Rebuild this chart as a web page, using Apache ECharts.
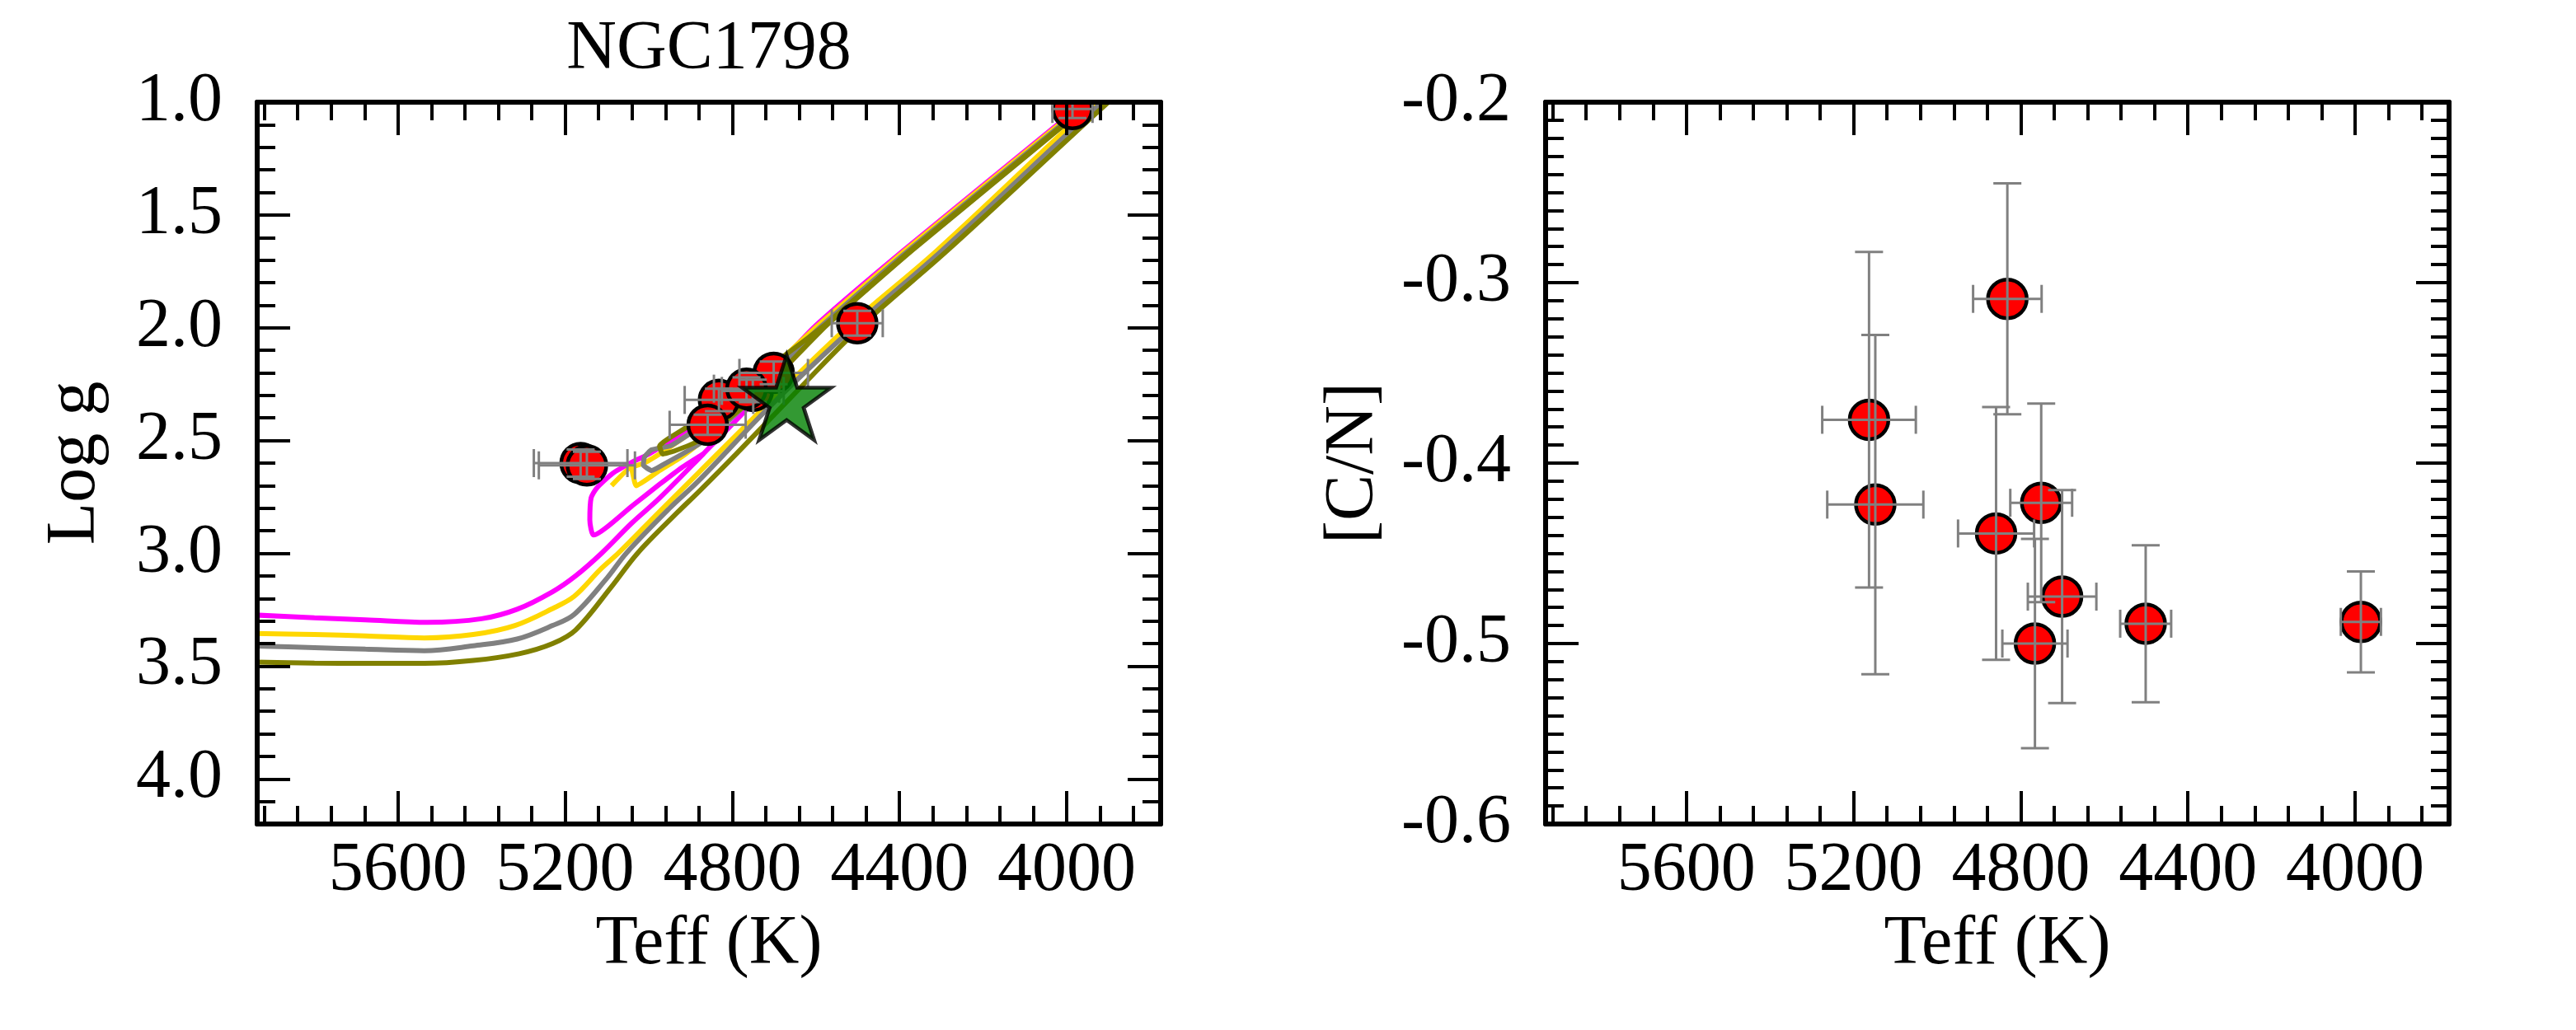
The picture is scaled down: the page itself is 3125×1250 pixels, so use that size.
<!DOCTYPE html>
<html>
<head>
<meta charset="utf-8">
<script src="https://cdn.jsdelivr.net/npm/echarts@6/dist/echarts.min.js"></script>
<style>
html,body{margin:0;padding:0;background:#ffffff;}
#chart{width:3125px;height:1250px;}
</style>
</head>
<body>
<div id="chart"></div>
<script>
// ---------------- text ----------------
const titleText = 'NGC1798';
const xAxisName = 'Teff (K)';
const yNameLeft = 'Log g';
const yNameRight = '[C/N]';

// ---------------- tick labels ----------------
const teffTicks = [4000, 4400, 4800, 5200, 5600];
const loggTicks = [1.0, 1.5, 2.0, 2.5, 3.0, 3.5, 4.0];
const cnTicks = [-0.6, -0.5, -0.4, -0.3, -0.2];

// ---------------- stars ----------------
const teff    = [5163, 5148, 4832, 4859, 4751, 4701, 4766, 4501, 3986];
const teffErr = [112, 115, 82, 91, 74, 82, 78, 61, 48];
const logg    = [2.60, 2.61, 2.32, 2.43, 2.28, 2.20, 2.27, 1.98, 1.03];
const loggErr = [0.06, 0.06, 0.05, 0.045, 0.05, 0.05, 0.05, 0.055, 0.04];
const cn      = [-0.376, -0.423, -0.309, -0.439, -0.422, -0.474, -0.500, -0.489, -0.488];
const cnErr   = [0.093, 0.094, 0.064, 0.070, 0.055, 0.059, 0.058, 0.0435, 0.028];

// cluster mean (green star)
const clusterTeff = 4670;
const clusterLogg = 2.31;

// ---------------- isochrones [Teff, logg] ----------------
const isoMagentaRGB = [[5960,3.272],[5800,3.286],[5678,3.295],[5530,3.306],[5400,3.290],[5315,3.248],[5230,3.170],[5175,3.100],[5112,2.998],[5040,2.865],[4974,2.755],[4870,2.560],[4760,2.350],[4660,2.150],[4585,1.990],[4379,1.657],[4004,1.084],[3920,0.950]];
const isoMagentaHeB = [[3930,0.950],[4012,1.084],[4390,1.657],[4600,1.990],[4690,2.170],[4775,2.360],[4900,2.450],[5000,2.560],[5040,2.596],[5086,2.645],[5125,2.712],[5138,2.755],[5141,2.852],[5132,2.919],[5040,2.790],[4974,2.694],[4921,2.620],[4870,2.560]];

const isoGoldRGB = [[5960,3.355],[5800,3.360],[5678,3.366],[5537,3.375],[5420,3.360],[5320,3.320],[5225,3.240],[5178,3.190],[5115,3.070],[5072,2.998],[4974,2.815],[4882,2.645],[4700,2.310],[4520,1.990],[4310,1.657],[3980,1.084],[3900,0.950]];
const isoGoldHeB = [[3925,0.950],[4006,1.084],[4382,1.657],[4590,1.990],[4750,2.300],[4850,2.470],[4921,2.572],[4974,2.633],[5030,2.700],[5043,2.620],[5089,2.700]];
const isoGoldHeB2 = [[5043,2.620],[5007,2.596],[4954,2.535],[4880,2.440],[4760,2.270],[4595,1.990],[4386,1.657],[4008,1.084],[3927,0.950]];

const isoGrayRGB = [[5960,3.410],[5800,3.418],[5678,3.425],[5537,3.432],[5420,3.410],[5315,3.380],[5230,3.320],[5178,3.270],[5100,3.110],[5053,2.998],[4950,2.800],[4882,2.681],[4700,2.330],[4505,1.990],[4298,1.657],[3965,1.084],[3885,0.950]];
const isoGrayHeB = [[3920,0.950],[4000,1.084],[4375,1.657],[4580,1.990],[4750,2.310],[4850,2.480],[4908,2.547],[4961,2.602],[4993,2.633],[5013,2.608],[5010,2.572],[4993,2.541],[4947,2.523],[4870,2.430],[4740,2.250],[4585,1.990],[4378,1.657],[4002,1.084],[3922,0.950]];

const isoOliveRGB = [[5960,3.482],[5800,3.487],[5678,3.488],[5537,3.488],[5420,3.475],[5310,3.445],[5230,3.400],[5175,3.340],[5090,3.150],[5026,2.998],[4932,2.820],[4882,2.730],[4791,2.560],[4650,2.290],[4490,1.990],[4285,1.657],[3950,1.084],[3870,0.950]];
const isoOliveHeB = [[3915,0.950],[3995,1.084],[4370,1.657],[4575,1.990],[4740,2.300],[4880,2.500],[4941,2.548],[4967,2.560],[4974,2.523],[4954,2.493],[4900,2.430],[4760,2.240],[4580,1.990],[4373,1.657],[3998,1.084],[3917,0.950]];

// ---------------- layout / style ----------------
const FONT = '"Liberation Serif", "Times New Roman", serif';
const FS = 84;
const TEFF_MIN = 3775, TEFF_MAX = 5937;
const LOGG_MIN = 1.0, LOGG_MAX = 4.2;
const CN_MIN = -0.6, CN_MAX = -0.2;
const GRID_TOP = 124, GRID_H = 876, GRID_W = 1096;
const LEFT_X = 312, RIGHT_X = 1875;

const teffMinor = [];
for (let v = 3840; v <= 5920; v += 80) { if (v % 400 !== 0) teffMinor.push(v); }
const loggMinor = [];
for (let k = 11; k <= 41; k++) { if (k % 5 !== 0) loggMinor.push(k / 10); }
const cnMinor = [];
for (let k = -59; k <= -21; k++) { if (k % 10 !== 0) cnMinor.push(k / 100); }

const chart = echarts.init(document.getElementById('chart'), null, {renderer: 'canvas'});

function axis(extra) {
  return Object.assign({
    type: 'value',
    splitLine: {show: false},
    axisLine: {show: true, onZero: false, lineStyle: {color: '#000', width: 6}},
    axisLabel: {show: false},
    axisTick: {show: false},
    z: 10,
    silent: true
  }, extra);
}
function tickSpec(values, len) {
  return {show: true, inside: true, length: len, customValues: values, lineStyle: {color: '#000', width: 4}};
}

function xAxesFor(g) {
  const common = {gridIndex: g, min: TEFF_MIN, max: TEFF_MAX, inverse: true};
  return [
    axis(Object.assign({}, common, {
      position: 'bottom',
      axisTick: tickSpec(teffTicks, 40),
      axisLabel: {show: true, customValues: teffTicks, fontSize: FS, fontFamily: FONT, color: '#000', margin: 16,
                  formatter: v => String(Math.round(v))},
      name: xAxisName, nameLocation: 'middle', nameGap: 100,
      nameTextStyle: {fontSize: FS, fontFamily: FONT, color: '#000'}
    })),
    axis(Object.assign({}, common, {position: 'bottom', axisLine: {show: false}, axisTick: tickSpec(teffMinor, 22)})),
    axis(Object.assign({}, common, {position: 'top', axisTick: tickSpec(teffTicks, 40)})),
    axis(Object.assign({}, common, {position: 'top', axisLine: {show: false}, axisTick: tickSpec(teffMinor, 22)}))
  ];
}
function yAxesFor(g, min, max, inverse, major, minor, name, gap) {
  const common = {gridIndex: g, min: min, max: max, inverse: inverse};
  return [
    axis(Object.assign({}, common, {
      position: 'left',
      axisTick: tickSpec(major, 40),
      axisLabel: {show: true, customValues: major, fontSize: FS, fontFamily: FONT, color: '#000', margin: 42,
                  formatter: v => Number(v).toFixed(1)},
      name: name, nameLocation: 'middle', nameGap: gap,
      nameTextStyle: {fontSize: FS, fontFamily: FONT, color: '#000'}
    })),
    axis(Object.assign({}, common, {position: 'left', axisLine: {show: false}, axisTick: tickSpec(minor, 22)})),
    axis(Object.assign({}, common, {position: 'right', axisTick: tickSpec(major, 40)})),
    axis(Object.assign({}, common, {position: 'right', axisLine: {show: false}, axisTick: tickSpec(minor, 22)}))
  ];
}

function isoLine(data, color, smooth) {
  return {
    type: 'line', xAxisIndex: 0, yAxisIndex: 0, data: data,
    showSymbol: false, symbol: 'none', clip: true, silent: true, z: 1,
    smooth: smooth,
    lineStyle: {color: color, width: 6}, itemStyle: {color: color}
  };
}
function circles(xi, yi, xs, ys) {
  return {
    type: 'custom', xAxisIndex: xi, yAxisIndex: yi, clip: true, z: 3, silent: true,
    encode: {x: 0, y: 1},
    data: xs.map((x, i) => [x, ys[i]]),
    renderItem: (p, api) => {
      const c = api.coord([api.value(0), api.value(1)]);
      return {type: 'circle', shape: {cx: c[0], cy: c[1], r: 23.5},
              style: {fill: '#ff0000', stroke: '#000000', lineWidth: 4.5}};
    }
  };
}
function errorBars(xi, yi, xs, ys, exs, eys) {
  return {
    type: 'custom', xAxisIndex: xi, yAxisIndex: yi, clip: true, z: 4, silent: true,
    encode: {x: 0, y: 1},
    data: xs.map((x, i) => [x, ys[i], exs[i], eys[i]]),
    renderItem: (p, api) => {
      const x = api.value(0), y = api.value(1), ex = api.value(2), ey = api.value(3);
      const c = api.coord([x, y]);
      const a = api.coord([x + ex, y]), b = api.coord([x - ex, y]);
      const t = api.coord([x, y - ey]), u = api.coord([x, y + ey]);
      const cap = 17;
      const st = {stroke: '#808080', lineWidth: 3};
      return {type: 'group', children: [
        {type: 'line', shape: {x1: c[0], y1: t[1], x2: c[0], y2: u[1]}, style: st},
        {type: 'line', shape: {x1: c[0] - cap, y1: t[1], x2: c[0] + cap, y2: t[1]}, style: st},
        {type: 'line', shape: {x1: c[0] - cap, y1: u[1], x2: c[0] + cap, y2: u[1]}, style: st},
        {type: 'line', shape: {x1: a[0], y1: c[1], x2: b[0], y2: c[1]}, style: st},
        {type: 'line', shape: {x1: a[0], y1: c[1] - cap, x2: a[0], y2: c[1] + cap}, style: st},
        {type: 'line', shape: {x1: b[0], y1: c[1] - cap, x2: b[0], y2: c[1] + cap}, style: st}
      ]};
    }
  };
}

const starPath = 'path://M100 0 L122.45 69.1 L195.11 69.1 L136.33 111.8 L158.78 180.9 L100 138.2 L41.22 180.9 L63.67 111.8 L4.89 69.1 L77.55 69.1 Z';

const option = {
  backgroundColor: '#ffffff',
  animation: false,
  grid: [
    {left: LEFT_X, top: GRID_TOP, width: GRID_W, height: GRID_H, containLabel: false, outerBoundsMode: 'none'},
    {left: RIGHT_X, top: GRID_TOP, width: GRID_W, height: GRID_H, containLabel: false, outerBoundsMode: 'none'}
  ],
  xAxis: xAxesFor(0).concat(xAxesFor(1)),
  yAxis: yAxesFor(0, LOGG_MIN, LOGG_MAX, true, loggTicks, loggMinor, yNameLeft, 178)
    .concat(yAxesFor(1, CN_MIN, CN_MAX, false, cnTicks, cnMinor, yNameRight, 190)),
  graphic: [{
    type: 'text', x: LEFT_X + GRID_W / 2, y: 61, silent: true,
    style: {text: titleText, font: FS + 'px ' + FONT, fill: '#000',
            align: 'center', verticalAlign: 'middle', textAlign: 'center', textVerticalAlign: 'middle'}
  }],
  series: [
    isoLine(isoMagentaRGB, '#ff00ff', 0.35),
    isoLine(isoMagentaHeB, '#ff00ff', 0.2),
    isoLine(isoGoldRGB, '#ffd700', 0.35),
    isoLine(isoGoldHeB, '#ffd700', 0.15),
    isoLine(isoGoldHeB2, '#ffd700', 0.15),
    isoLine(isoGrayRGB, '#808080', 0.35),
    isoLine(isoGrayHeB, '#808080', 0.15),
    isoLine(isoOliveRGB, '#808000', 0.35),
    isoLine(isoOliveHeB, '#808000', 0.15),
    circles(0, 0, teff, logg),
    errorBars(0, 0, teff, logg, teffErr, loggErr),
    {
      type: 'scatter', xAxisIndex: 0, yAxisIndex: 0, z: 6, silent: true,
      data: [[clusterTeff, clusterLogg]],
      symbol: starPath, symbolSize: [108, 103],
      itemStyle: {color: '#008000', borderColor: '#000000', borderWidth: 4.5}
    },
    circles(4, 4, teff, cn),
    errorBars(4, 4, teff, cn, teffErr, cnErr)
  ]
};
chart.setOption(option);
</script>
</body>
</html>
